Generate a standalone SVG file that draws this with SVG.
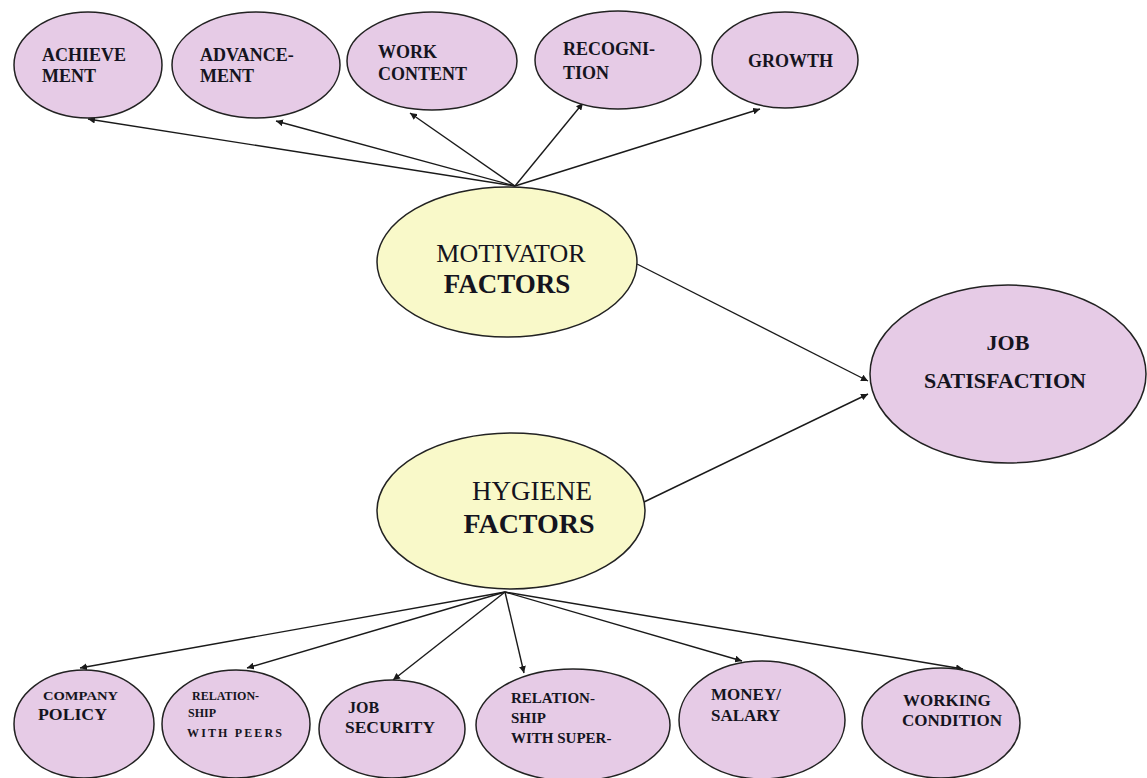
<svg xmlns="http://www.w3.org/2000/svg" width="1147" height="778" viewBox="0 0 1147 778">
<style>
.pk{fill:#e6cbe6;stroke:#222;stroke-width:1.5}
.yl{fill:#f9f9c9;stroke:#222;stroke-width:1.5}
.c{fill:none;stroke:#1a1a1a;stroke-width:1.4;marker-end:url(#ah)}
</style>
<defs>
<marker id="ah" viewBox="0 0 10 10" refX="10" refY="5" markerWidth="7" markerHeight="7" markerUnits="userSpaceOnUse" orient="auto"><path d="M0,0 L10,5 L0,10 z" fill="#1a1a1a"/></marker>
</defs>
<rect width="1147" height="778" fill="#ffffff"/>
<g id="connectors">
<line class="c" x1="515" y1="186" x2="88" y2="119"/>
<line class="c" x1="515" y1="186" x2="276" y2="121"/>
<line class="c" x1="515" y1="186" x2="410" y2="113"/>
<line class="c" x1="515" y1="186" x2="583" y2="103"/>
<line class="c" x1="515" y1="186" x2="760" y2="109"/>
<line class="c" x1="637" y1="264" x2="868" y2="381"/>
<line class="c" x1="644" y1="502" x2="868" y2="394"/>
<line class="c" x1="505" y1="592" x2="80" y2="668"/>
<line class="c" x1="505" y1="592" x2="247" y2="668"/>
<line class="c" x1="505" y1="592" x2="393" y2="680"/>
<line class="c" x1="505" y1="592" x2="524" y2="673"/>
<line class="c" x1="505" y1="592" x2="742" y2="661"/>
<line class="c" x1="505" y1="592" x2="963" y2="669"/>
</g>
<g id="achievement"><ellipse class="pk" cx="88" cy="65" rx="74" ry="53"/><text font-family="Liberation Serif" font-weight="bold" fill="#141420" font-size="18" x="42" y="61">ACHIEVE</text><text font-family="Liberation Serif" font-weight="bold" fill="#141420" font-size="18" x="42" y="82">MENT</text></g>
<g id="advancement"><ellipse class="pk" cx="256" cy="65" rx="84" ry="53"/><text font-family="Liberation Serif" font-weight="bold" fill="#141420" font-size="18" x="200" y="61">ADVANCE-</text><text font-family="Liberation Serif" font-weight="bold" fill="#141420" font-size="18" x="200" y="82">MENT</text></g>
<g id="work-content"><ellipse class="pk" cx="432" cy="61" rx="85" ry="49"/><text font-family="Liberation Serif" font-weight="bold" fill="#141420" font-size="18" x="378" y="58">WORK</text><text font-family="Liberation Serif" font-weight="bold" fill="#141420" font-size="18" x="378" y="80">CONTENT</text></g>
<g id="recognition"><ellipse class="pk" cx="618" cy="60" rx="83" ry="49"/><text font-family="Liberation Serif" font-weight="bold" fill="#141420" font-size="18" x="563" y="55">RECOGNI-</text><text font-family="Liberation Serif" font-weight="bold" fill="#141420" font-size="18" x="563" y="79">TION</text></g>
<g id="growth"><ellipse class="pk" cx="785" cy="60" rx="73" ry="48"/><text font-family="Liberation Serif" font-weight="bold" fill="#141420" font-size="18" x="748" y="67">GROWTH</text></g>
<g id="motivator"><ellipse class="yl" cx="507" cy="262" rx="130" ry="75"/><text font-family="Liberation Serif" fill="#141420" font-size="26" x="511" y="262" text-anchor="middle">MOTIVATOR</text><text font-family="Liberation Serif" font-weight="bold" fill="#141420" font-size="27" x="507" y="293" text-anchor="middle">FACTORS</text></g>
<g id="job-satisfaction"><ellipse class="pk" cx="1008" cy="374" rx="138" ry="89"/><text font-family="Liberation Serif" font-weight="bold" fill="#141420" font-size="22" x="1008" y="350" text-anchor="middle">JOB</text><text font-family="Liberation Serif" font-weight="bold" fill="#141420" font-size="22" x="1005" y="388" text-anchor="middle">SATISFACTION</text></g>
<g id="hygiene"><ellipse class="yl" cx="511" cy="511" rx="134" ry="78"/><text font-family="Liberation Serif" fill="#141420" font-size="27" x="532" y="500" text-anchor="middle">HYGIENE</text><text font-family="Liberation Serif" font-weight="bold" fill="#141420" font-size="28" x="529" y="533" text-anchor="middle">FACTORS</text></g>
<g id="company-policy"><ellipse class="pk" cx="84" cy="724" rx="70" ry="54"/><text font-family="Liberation Serif" font-weight="bold" fill="#141420" font-size="12" x="43" y="700" textLength="75" lengthAdjust="spacingAndGlyphs">COMPANY</text><text font-family="Liberation Serif" font-weight="bold" fill="#141420" font-size="16" x="38" y="720" textLength="69" lengthAdjust="spacingAndGlyphs">POLICY</text></g>
<g id="relationship-peers"><ellipse class="pk" cx="236" cy="724" rx="74" ry="54"/><text font-family="Liberation Serif" font-weight="bold" fill="#141420" font-size="12" x="192" y="700">RELATION-</text><text font-family="Liberation Serif" font-weight="bold" fill="#141420" font-size="12" x="188" y="717">SHIP</text><text font-family="Liberation Serif" font-weight="bold" fill="#141420" font-size="12" x="187" y="737" textLength="95" lengthAdjust="spacing">WITH PEERS</text></g>
<g id="job-security"><ellipse class="pk" cx="392" cy="729" rx="73" ry="49"/><text font-family="Liberation Serif" font-weight="bold" fill="#141420" font-size="16" x="348" y="713">JOB</text><text font-family="Liberation Serif" font-weight="bold" fill="#141420" font-size="16" x="345" y="733" textLength="90" lengthAdjust="spacingAndGlyphs">SECURITY</text></g>
<g id="relationship-superior"><ellipse class="pk" cx="573" cy="725" rx="97" ry="56"/><text font-family="Liberation Serif" font-weight="bold" fill="#141420" font-size="15" x="511" y="703">RELATION-</text><text font-family="Liberation Serif" font-weight="bold" fill="#141420" font-size="15" x="511" y="723">SHIP</text><text font-family="Liberation Serif" font-weight="bold" fill="#141420" font-size="15" x="511" y="743">WITH SUPER-</text></g>
<g id="money-salary"><ellipse class="pk" cx="762" cy="720" rx="83" ry="59"/><text font-family="Liberation Serif" font-weight="bold" fill="#141420" font-size="17" x="711" y="700">MONEY/</text><text font-family="Liberation Serif" font-weight="bold" fill="#141420" font-size="17" x="711" y="721">SALARY</text></g>
<g id="working-condition"><ellipse class="pk" cx="941" cy="723" rx="79" ry="55"/><text font-family="Liberation Serif" font-weight="bold" fill="#141420" font-size="17" x="903" y="706">WORKING</text><text font-family="Liberation Serif" font-weight="bold" fill="#141420" font-size="17" x="902" y="726">CONDITION</text></g>
</svg>
